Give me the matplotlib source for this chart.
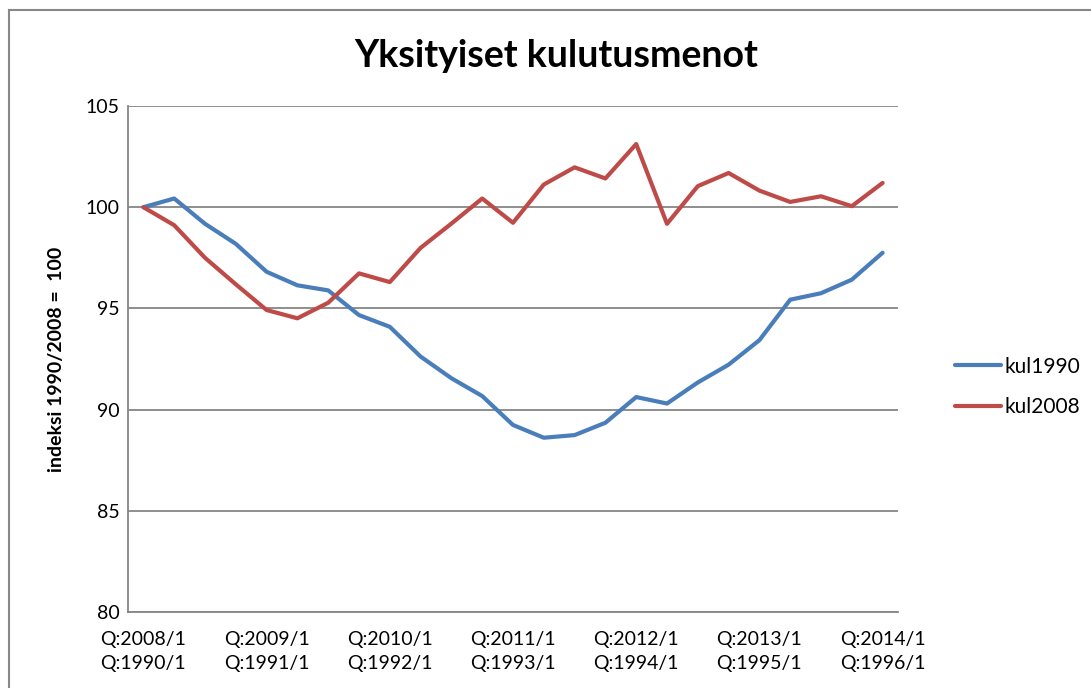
import numpy as np
import matplotlib.pyplot as plt
from matplotlib.lines import Line2D

# Quarter labels (two rows: 2008 base / 1990 base)
quarters_2008 = ['Q:%d/%d' % (y, q) for y in range(2008, 2015) for q in range(1, 5)][:25]
quarters_1990 = ['Q:%d/%d' % (y, q) for y in range(1990, 1997) for q in range(1, 5)][:25]

# Index values
kul1990 = [100.0, 100.43, 99.18, 98.19, 96.81, 96.14, 95.89, 94.67, 94.09,
           92.62, 91.55, 90.67, 89.24, 88.61, 88.74, 89.35, 90.62, 90.30,
           91.34, 92.22, 93.43, 95.43, 95.75, 96.42, 97.75]
kul2008 = [100.0, 99.11, 97.50, 96.19, 94.92, 94.51, 95.28, 96.73, 96.30,
           97.99, 99.19, 100.43, 99.23, 101.12, 101.97, 101.42, 103.12, 99.18,
           101.04, 101.69, 100.82, 100.26, 100.54, 100.05, 101.20]

yticks = [80, 85, 90, 95, 100, 105]

plt.rcParams['font.family'] = ['Lato', 'DejaVu Sans']

fig = plt.figure(figsize=(10.91, 6.88), dpi=100)
W, H = 1091, 688
ax = fig.add_axes([128 / W, 1 - 612 / H, (898 - 128) / W, (612 - 106) / H])

x = np.arange(len(kul1990))
ax.plot(x, kul1990, color='#4a7ebb', lw=3.0, label='kul1990', solid_capstyle='round')
ax.plot(x, kul2008, color='#be4b48', lw=3.0, label='kul2008', solid_capstyle='round')

ax.set_xlim(-0.5, len(x) - 0.5)
ax.set_ylim(80, 105)
ax.set_yticks(yticks)
ax.set_yticklabels([str(v) for v in yticks], fontsize=14)
ax.yaxis.grid(True, color='#868686', lw=1.3)
ax.set_axisbelow(True)

ax.set_xticks(x[::4])
ax.set_xticklabels([a + '\n' + b for a, b in zip(quarters_2008[::4], quarters_1990[::4])],
                   fontsize=14, linespacing=1.5)
ax.tick_params(axis='x', length=0, pad=14)
ax.tick_params(axis='y', length=0, pad=6)

for side in ['top', 'right']:
    ax.spines[side].set_visible(False)
for side in ['left', 'bottom']:
    ax.spines[side].set_color('#868686')
    ax.spines[side].set_linewidth(1.3)

ax.set_ylabel('indeksi 1990/2008 =  100', fontsize=14, fontweight='bold', labelpad=15)

fig.text(556 / W, 1 - 56 / H, 'Yksityiset kulutusmenot', fontsize=27, fontweight='bold',
         ha='center', va='center')

ax.legend(loc='center left', bbox_to_anchor=(955 / W, 1 - 387 / H),
          bbox_transform=fig.transFigure, frameon=False, fontsize=15,
          handlelength=2.2, handletextpad=0.2, labelspacing=1.0,
          borderpad=0, borderaxespad=0)

# outer chart frame
fig.add_artist(Line2D([9 / W, 9 / W], [0, 1 - 9.5 / H], transform=fig.transFigure,
                      color='#888888', lw=1.5))
fig.add_artist(Line2D([9 / W, 1], [1 - 9.5 / H, 1 - 9.5 / H], transform=fig.transFigure,
                      color='#888888', lw=1.5))

fig.savefig('out.png', dpi=100)
